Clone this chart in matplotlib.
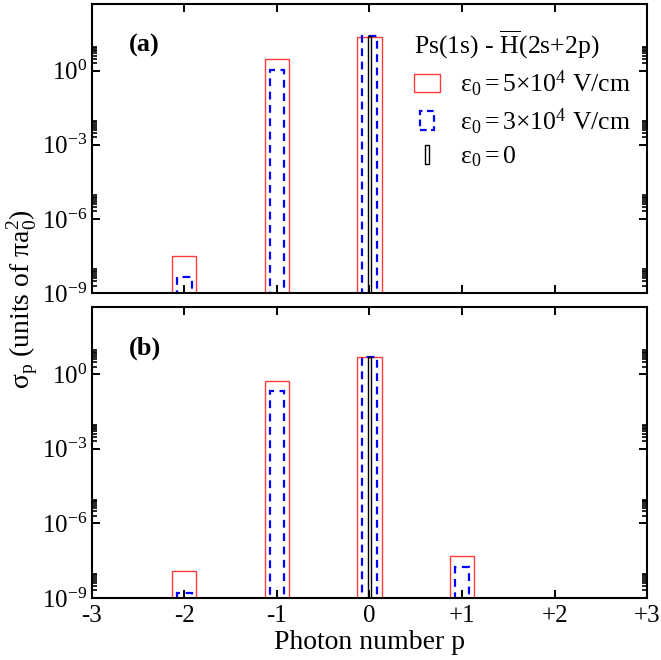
import matplotlib
matplotlib.use("Agg")
import matplotlib.pyplot as plt
import numpy as np
from matplotlib.patches import Rectangle
from matplotlib.legend_handler import HandlerPatch
from matplotlib.ticker import FixedLocator, LogFormatterMathtext, NullFormatter

plt.rcParams['font.family'] = ['Liberation Serif', 'DejaVu Serif']
plt.rcParams['mathtext.fontset'] = 'custom'
plt.rcParams['mathtext.rm'] = 'Liberation Serif'
plt.rcParams['mathtext.it'] = 'Liberation Serif:italic'
plt.rcParams['mathtext.bf'] = 'Liberation Serif:bold'

# photon number p
photons = [-2, -1, 0, 1]
xticklabels = ['-3', '-2', '-1', '0', '+1', '+2', '+3']

# panel (a): sigma_p in units of pi a0^2
a_e5 = [3.2e-8, 3.0, 23.0, 0.0]
a_e3 = [4.5e-9, 1.1, 25.0, 0.0]
a_e0 = [0.0, 0.0, 25.0, 0.0]

# panel (b)
b_e5 = [1.2e-8, 0.54, 4.9, 5.0e-8]
b_e3 = [1.6e-9, 0.20, 4.8, 1.8e-8]
b_e0 = [0.0, 0.0, 4.9, 0.0]

red = '#ff3b3b'
blue = '#0000ff'

fig = plt.figure(figsize=(6.61, 6.60), dpi=100)
ax1 = fig.add_axes([0.139, 0.556, 0.840, 0.438])
ax2 = fig.add_axes([0.139, 0.094, 0.840, 0.441])

floor = 1e-12


def draw(ax, e5, e3, e0):
    x = np.array(photons, dtype=float)
    h5 = np.array(e5)
    h3 = np.array(e3)
    h0 = np.array(e0)
    m = h5 > 0
    ax.bar(x[m], h5[m] - floor, width=0.26, bottom=floor, fill=False,
           edgecolor=red, linewidth=1.0)
    m = h3 > 0
    ax.bar(x[m], h3[m] - floor, width=0.155, bottom=floor, fill=False,
           edgecolor=blue, linewidth=1.6, linestyle=(0, (3.5, 2.5)))
    m = h0 > 0
    ax.bar(x[m], h0[m] - floor, width=0.04, bottom=floor, fill=False,
           edgecolor='black', linewidth=1.0)

    ax.set_yscale('log')
    ax.set_xlim(-3, 3)
    ax.set_ylim(1e-9, 5e2)
    ax.yaxis.set_major_locator(FixedLocator([1e-9, 1e-6, 1e-3, 1e0]))
    ax.yaxis.set_major_formatter(LogFormatterMathtext())
    minors = [k * 10.0 ** n for n in (-9, -6, -3, 0) for k in range(2, 10)]
    ax.yaxis.set_minor_locator(FixedLocator(minors))
    ax.yaxis.set_minor_formatter(NullFormatter())
    ax.set_xticks(np.arange(-3, 4))
    ax.set_xticklabels(xticklabels)
    ax.tick_params(which='both', direction='in', top=True, right=True,
                   labelsize=18)
    ax.tick_params(which='major', length=5.8, width=1.4)
    ax.tick_params(which='minor', length=3.4, width=1.2)
    ax.tick_params(axis='x', which='major', pad=5)
    ax.tick_params(axis='x', which='minor', bottom=False, top=False)
    for s in ax.spines.values():
        s.set_linewidth(1.5)


draw(ax1, a_e5, a_e3, a_e0)
draw(ax2, b_e5, b_e3, b_e0)
ax1.tick_params(axis='x', labelbottom=False)

ax1.text(0.067, 0.858, '(a)', transform=ax1.transAxes, fontsize=19,
         fontweight='bold', va='center')
ax2.text(0.067, 0.858, '(b)', transform=ax2.transAxes, fontsize=19,
         fontweight='bold', va='center')

ax2.set_xlabel('Photon number p', fontsize=20, labelpad=2)
fig.text(0.035, 0.546, r'$\mathrm{σ}_\mathrm{p}$ (units of $\mathrm{πa_0^2}$)',
         rotation=90, fontsize=20, ha='center', va='center')


def rect_handler(frac):
    def f(legend, orig_handle, xdescent, ydescent, width, height, fontsize):
        w = width * frac
        return Rectangle((-xdescent + (width - w) / 2, -ydescent), w, height)
    return HandlerPatch(patch_func=f)


h5 = Rectangle((0, 0), 1, 1, fill=False, edgecolor=red, linewidth=1.0)
h3 = Rectangle((0, 0), 1, 1, fill=False, edgecolor=blue, linewidth=1.6,
               linestyle=(0, (3, 2)))
h0 = Rectangle((0, 0), 1, 1, fill=False, edgecolor='black', linewidth=1.0)
leg = ax1.legend([h5, h3, h0],
                 [r'$\mathrm{ε}_0 = 5{\times}10^4$ V/cm',
                  r'$\mathrm{ε}_0 = 3{\times}10^4$ V/cm',
                  r'$\mathrm{ε}_0 = 0$'],
                 handler_map={h5: rect_handler(1.0), h3: rect_handler(0.55),
                              h0: rect_handler(0.17)},
                 title=r'Ps(1s) - $\overline{\mathrm{H}}$(2s+2p)',
                 loc='upper right', bbox_to_anchor=(0.99, 0.95),
                 frameon=False, fontsize=18.5, title_fontsize=18.5,
                 handlelength=1.0, handleheight=0.75, handletextpad=0.8,
                 labelspacing=0.3, borderaxespad=0.0, alignment='left')

plt.savefig('out.png', dpi=100)
